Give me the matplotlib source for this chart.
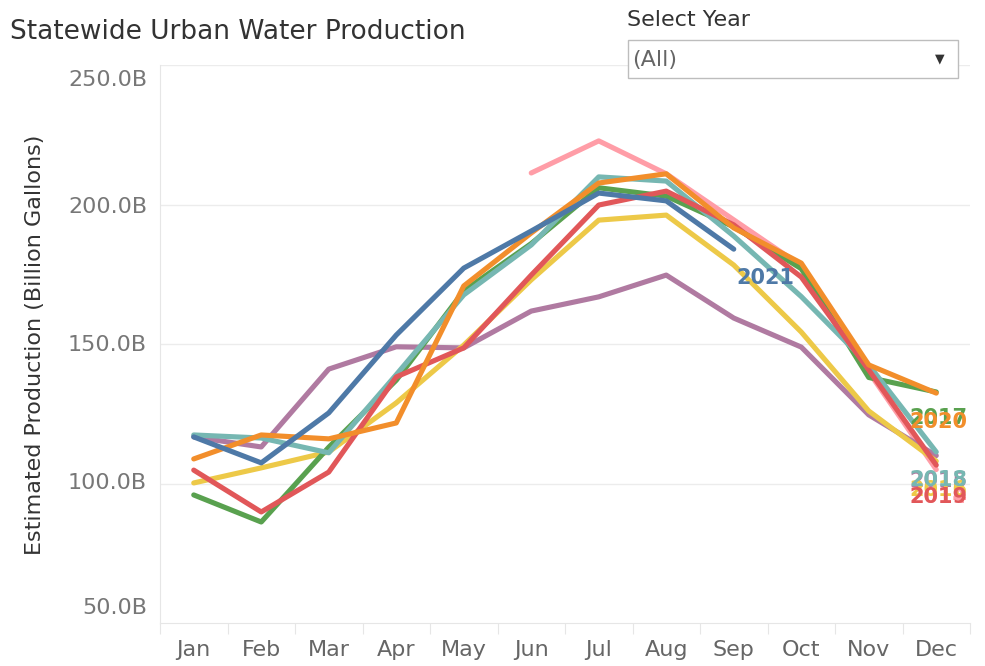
import numpy as np
import matplotlib.pyplot as plt
from matplotlib.patches import Rectangle

months = ["Jan", "Feb", "Mar", "Apr", "May", "Jun", "Jul", "Aug", "Sep", "Oct", "Nov", "Dec"]

# estimated production, billion gallons (NaN = no data)
nan = np.nan
y2014 = [nan, nan, nan, nan, nan, 211.3, 222.8, 211.0, 194.5, 178.0, 140.0, 105.0]
y2015 = [116.7, 113.1, 141.0, 149.0, 148.6, 161.8, 166.9, 174.7, 159.3, 148.9, 124.6, 110.0]
y2016 = [100.2, 105.6, 111.3, 128.9, 149.6, 173.0, 194.4, 196.2, 178.3, 154.3, 126.0, 108.0]
y2017 = [95.9, 86.2, 113.0, 137.0, 169.0, 186.0, 206.0, 203.0, 192.0, 177.0, 138.0, 132.8]
y2018 = [117.4, 116.3, 111.0, 139.0, 167.6, 185.5, 209.9, 208.4, 188.7, 167.0, 142.5, 111.3]
y2019 = [104.8, 89.8, 104.1, 138.2, 148.6, 174.7, 199.8, 204.8, 192.7, 174.0, 140.7, 106.6]
y2020 = [108.8, 117.4, 116.0, 121.7, 170.8, 189.8, 207.7, 211.0, 191.6, 179.0, 142.5, 132.4]
y2021 = [116.7, 107.4, 125.3, 153.2, 177.2, 190.5, 204.1, 201.3, 184.0, nan, nan, nan]

# drawing order (bottom first)
series = [
    ("2014", y2014, "#ff9da7"),
    ("2015", y2015, "#b07aa1"),
    ("2016", y2016, "#edc948"),
    ("2017", y2017, "#59a14f"),
    ("2018", y2018, "#76b7b2"),
    ("2019", y2019, "#e15759"),
    ("2020", y2020, "#f28e2b"),
    ("2021", y2021, "#4e79a7"),
]

fig = plt.figure(figsize=(9.85, 6.66), dpi=100)
ax = fig.add_axes([160 / 985, 1 - 623 / 666, 810 / 985, 558 / 666])

x = np.arange(len(months))
for name, vals, col in series:
    v = np.array(vals, dtype=float)
    ax.plot(x, v, color=col, lw=3.7, solid_capstyle="round", solid_joinstyle="round", zorder=3)

# end-of-line labels (the Dec ones pile up on each other, as in the original)
label_order = ["2014", "2015", "2016", "2018", "2019", "2017", "2020", "2021"]
cols = {n: c for n, _, c in series}
data = {n: v for n, v, _ in series}
offs = {"2017": -19, "2020": -21, "2018": -20, "2019": -23, "2015": -18, "2016": -21, "2014": -20}
for name in label_order:
    v = np.array(data[name], dtype=float)
    idx = np.where(~np.isnan(v))[0][-1]
    if name == "2021":
        ax.annotate(name, (idx, v[idx]), xytext=(2, -21), textcoords="offset points",
                    ha="left", va="center", color=cols[name], fontsize=15, fontweight="bold", zorder=5)
    else:
        ax.annotate(name, (idx, v[idx]), xytext=(1.5, offs[name]), textcoords="offset points",
                    ha="center", va="center", color=cols[name], fontsize=15, fontweight="bold", zorder=5)

ax.set_xlim(-0.5, 11.5)
ax.set_ylim(50, 250)
ax.set_yticks([50, 100, 150, 200, 250])
ax.set_yticklabels([])
for val in [100, 150, 200, 250]:
    ax.axhline(val, color="#ececec", lw=1, zorder=1)

for s in ["top", "right"]:
    ax.spines[s].set_visible(False)
ax.spines["left"].set_color("#e6e6e6")
ax.spines["bottom"].set_color("#e6e6e6")
ax.tick_params(axis="y", length=0)

# month ticks at band boundaries, labels at centers
ax.set_xticks(np.arange(-0.5, 12, 1))
ax.set_xticklabels([])
ax.tick_params(axis="x", length=8, color="#e6e6e6")
for i, m in enumerate(months):
    ax.text(i, -0.03, m, transform=ax.get_xaxis_transform(), ha="center", va="top",
            color="#666666", fontsize=16)

# y tick labels (Tableau keeps edge labels inside)
ylabels = {250: 80, 200: 207, 150: 345, 100: 483, 50: 608}
for val, ypx in ylabels.items():
    fig.text(147 / 985, 1 - ypx / 666, f"{val:.1f}B", ha="right", va="center",
             color="#777777", fontsize=16)

fig.text(35 / 985, 1 - 345 / 666, "Estimated Production (Billion Gallons)", rotation=90,
         ha="center", va="center", color="#333333", fontsize=16)

fig.text(10 / 985, 1 - 32 / 666, "Statewide Urban Water Production", ha="left", va="center",
         color="#333333", fontsize=19)

# year selector widget
fig.text(627 / 985, 1 - 20 / 666, "Select Year", ha="left", va="center", color="#333333", fontsize=16)
fig.patches.append(Rectangle((628 / 985, 1 - 78 / 666), 330 / 985, 38 / 666, transform=fig.transFigure,
                             facecolor="white", edgecolor="#bdbdbd", lw=1, zorder=10))
fig.text(632 / 985, 1 - 60 / 666, "(All)", ha="left", va="center", color="#666666", fontsize=16, zorder=11)
fig.text(940 / 985, 1 - 59 / 666, "\u25bc", ha="center", va="center", color="#333333", fontsize=9, zorder=11)

fig.savefig("out.png", dpi=100)
